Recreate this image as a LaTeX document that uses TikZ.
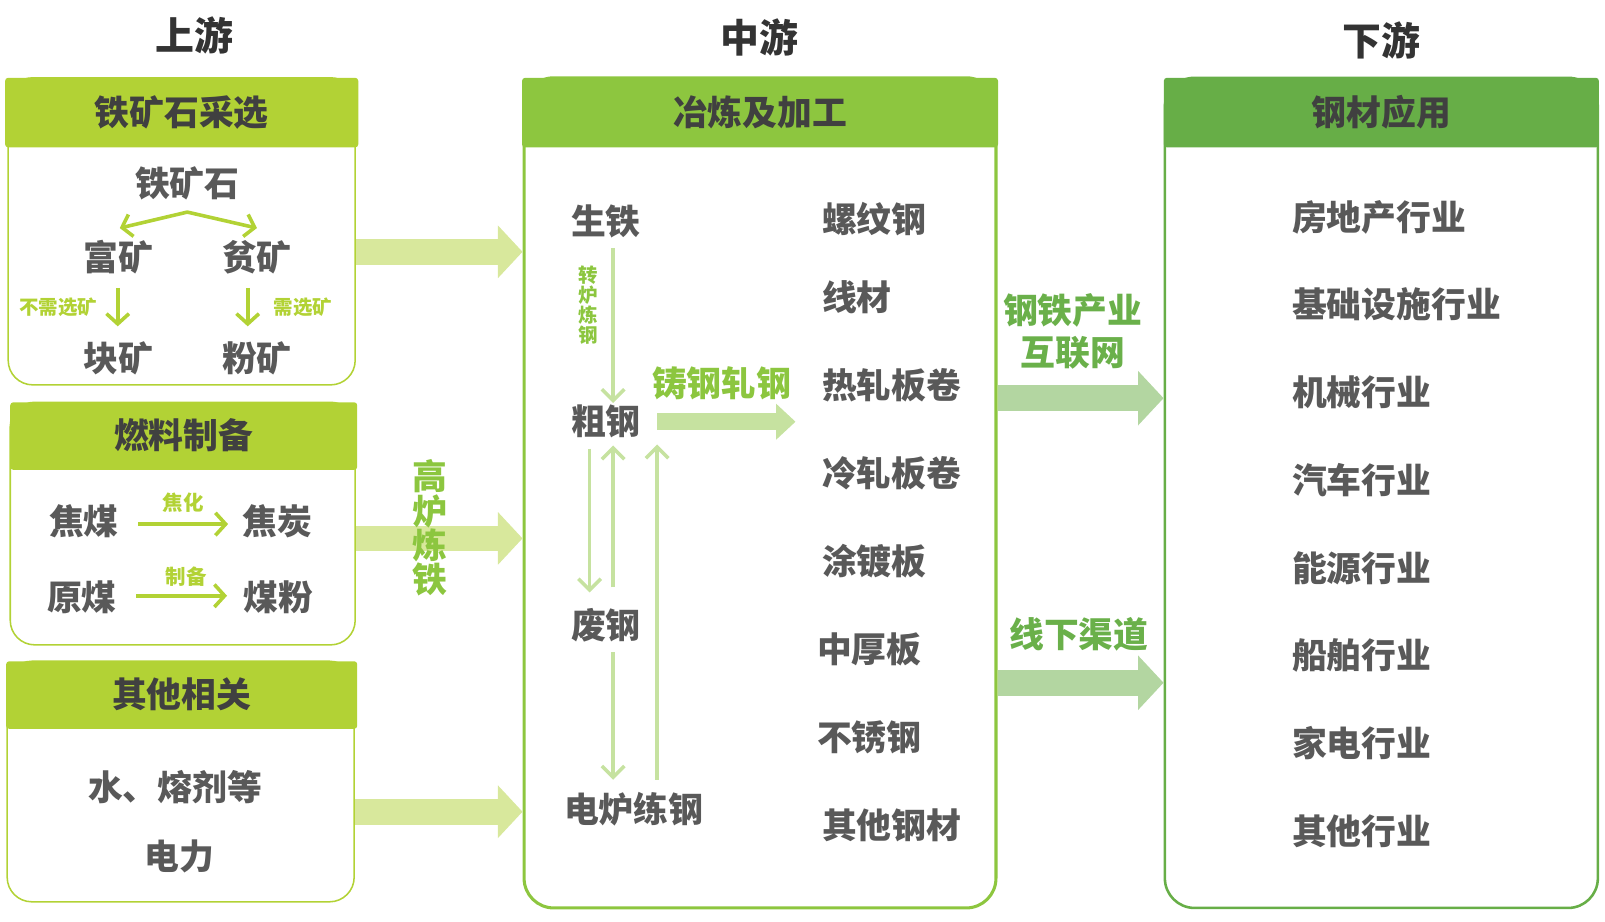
\documentclass[tikz,border=0pt]{standalone}
\usepackage{fontspec}
\setmainfont{Noto Sans CJK SC}
\usetikzlibrary{arrows.meta}
\definecolor{cA}{HTML}{B2D235}
\definecolor{cB}{HTML}{8DC63F}
\definecolor{cC}{HTML}{67AE47}
\definecolor{arrA}{HTML}{D8E89C}
\definecolor{arrB}{HTML}{C6E2A0}
\definecolor{arrC}{HTML}{B3D6A1}
\definecolor{tgray}{HTML}{595959}
\definecolor{tdark}{HTML}{404040}
\definecolor{thead}{HTML}{333333}
\definecolor{lgB}{HTML}{8CC63F}
\definecolor{lgC}{HTML}{6AB04A}
\begin{document}
\begin{tikzpicture}[x=1pt,y=-1pt,
  txt/.style={font=\fontsize{34}{34}\selectfont\bfseries, text=tgray, inner sep=0pt, text height=27pt, text depth=2pt},
  wtxt/.style={txt, anchor=west},
  colhead/.style={font=\fontsize{38}{38}\selectfont\bfseries, text=thead, inner sep=0pt},
  bar/.style={inner sep=0pt, rounded corners=3pt, font=\fontsize{34}{34}\selectfont\bfseries, text=tdark, text height=27pt, text depth=2pt},
  body/.style={inner sep=0pt, rounded corners=24pt},
  small/.style={font=\fontsize{19}{19}\selectfont\bfseries, inner sep=0pt, text=cA},
  glabel/.style={font=\fontsize{34}{34}\selectfont\bfseries, inner sep=0pt, align=center},
  barbA/.style={draw=cA, line width=3.5pt, {Straight Barb[length=9pt,width=22pt]}-{Straight Barb[length=9pt,width=22pt]}},
  downA/.style={draw=cA, line width=3.5pt, -{Straight Barb[length=10pt,width=22pt]}},
  thinB/.style={draw=arrB, line width=3.5pt, -{Straight Barb[length=11pt,width=22pt]}},
  bigA/.style={draw=arrA, line width=25pt, -{Triangle[length=24pt,width=50pt]}},
  bigC/.style={draw=arrC, line width=25pt, -{Triangle[length=25pt,width=52pt]}},
  midB/.style={draw=arrB, line width=17pt, -{Triangle[length=19pt,width=34pt]}}
]
\useasboundingbox (0,0) rectangle (1568,900);

% column headings
\node[colhead] (up) at (190,35) {上游};
\node[colhead] (mid) at (742,37) {中游};
\node[colhead] (down) at (1350,40) {下游};

% panel bodies
\node[body, draw=cA, line width=1.5pt, minimum width=339pt, minimum height=300pt] (b1) at (177.5,226) {};
\node[body, draw=cA, line width=1.5pt, minimum width=337pt, minimum height=237pt] (b2) at (178.5,511.5) {};
\node[body, draw=cA, line width=1.5pt, minimum width=339pt, minimum height=235pt] (b3) at (176.5,763.5) {};
\node[body, draw=cB, line width=3pt, rounded corners=29pt, minimum width=461pt, minimum height=811pt] (mb) at (742.5,481.5) {};
\node[body, draw=cC, line width=2.5pt, rounded corners=29pt, minimum width=423pt, minimum height=811pt] (rb) at (1349.5,481.5) {};

% header bars
\node[bar, fill=cA, minimum width=345pt, minimum height=68pt] (h1) at (177.5,110) {铁矿石采选};
\node[bar, fill=cA, minimum width=339pt, minimum height=66pt] (h2) at (179.5,426) {燃料制备};
\node[bar, fill=cA, minimum width=343pt, minimum height=66pt] (h3) at (177.5,679) {其他相关};
\node[bar, fill=cB, minimum width=465pt, minimum height=68pt] (hm) at (742.5,110) {冶炼及加工};
\node[bar, fill=cC, minimum width=425pt, minimum height=68pt] (hr) at (1349.5,110) {钢材应用};

% panel 1
\node[txt] (ore) at (183,179) {铁矿石};
\node[txt] (rich) at (116,252) {富矿};
\node[txt] (poor) at (251,252) {贫矿};
\node[txt] (lump) at (116,350) {块矿};
\node[txt] (fine) at (251,350) {粉矿};
\coordinate (apex) at ([yshift=-13.5pt]ore.south);
\draw[barbA] ([xshift=1pt,yshift=14.5pt]rich.north) -- (apex) -- ([yshift=14.5pt]poor.north);
\draw[downA] ([xshift=-1pt,yshift=-14.5pt]rich.south) -- ([xshift=-1pt,yshift=16.5pt]lump.north);
\draw[downA] ([xshift=-9pt,yshift=-14.5pt]poor.south) -- ([xshift=-9pt,yshift=16.5pt]fine.north);
\node[small] (nosel) at (57,300) {不需选矿};
\node[small] (sel) at (296,300) {需选矿};

% panel 2
\node[txt] (cc) at (82,510) {焦煤};
\node[txt] (coke) at (271,510) {焦炭};
\node[txt] (raw) at (80,584) {原煤};
\node[txt] (pc) at (272,584) {煤粉};
\draw[downA] ([xshift=19pt,yshift=-2pt]cc.east) -- ([xshift=-14pt,yshift=-2pt]coke.west);
\draw[downA] ([xshift=19pt,yshift=2pt]raw.east) -- ([xshift=-16pt,yshift=2pt]pc.west);
\node[small, font=\fontsize{20}{20}\selectfont\bfseries] (lcoke) at (179,491) {焦化};
\node[small, font=\fontsize{20}{20}\selectfont\bfseries] (lprep) at (182,563) {制备};

% panel 3
\node[txt] (water) at (171,770) {水、熔剂等};
\node[txt] (power) at (175,837) {电力};

% big arrows left
\coordinate (a1s) at ([yshift=-20pt]b1.east);
\coordinate (a1e) at (a1s -| mb.west);
\draw[bigA] (a1s) -- (a1e);
\coordinate (a2s) at ([yshift=-14.5pt]b2.east);
\coordinate (a2e) at (a2s -| mb.west);
\draw[bigA] (a2s) -- (a2e);
\coordinate (a3s) at ([yshift=-29.5pt]b3.east);
\coordinate (a3e) at (a3s -| mb.west);
\draw[bigA] (a3s) -- (a3e);
\node[glabel, text=lgB, font=\fontsize{34}{33.5}\selectfont\bfseries] (bf) at (420,516) {高\\炉\\炼\\铁};

% middle panel
\node[txt] (pig) at (592,217) {生铁};
\node[txt] (crude) at (592,412) {粗钢};
\node[txt] (scrap) at (592,611) {废钢};
\node[txt] (eaf) at (619,791) {电炉练钢};
\draw[thinB] ([xshift=7pt,yshift=-10.5pt]pig.south) -- ([xshift=7pt,yshift=3.5pt]crude.north);
\node[small, text=lgB, align=center, font=\fontsize{19}{19.3}\selectfont\bfseries] (bof) at (574.5,298) {转\\炉\\炼\\钢};
\draw[thinB] ([xshift=-16pt,yshift=-11.5pt]crude.south) -- ([xshift=-16pt,yshift=17.5pt]scrap.north);
\draw[thinB] ([xshift=7pt,yshift=22.5pt]scrap.north) -- ([xshift=7pt,yshift=-8.5pt]crude.south);
\draw[thinB] ([xshift=23pt,yshift=14.5pt]eaf.north) -- ([xshift=50pt,yshift=-7.5pt]crude.south);
\draw[thinB] ([xshift=7pt,yshift=-11.5pt]scrap.south) -- ([xshift=-20pt,yshift=14.5pt]eaf.north);
\draw[midB] ([xshift=16pt]crude.east) -- ([xshift=151pt]crude.east);
\node[glabel, text=lgB] (cast) at (705,374) {铸钢轧钢};

\node[wtxt] (m1) at (803,215) {螺纹钢};
\node[wtxt] (m2) at (803,291) {线材};
\node[wtxt] (m3) at (803,377) {热轧板卷};
\node[wtxt] (m4) at (803,463) {冷轧板卷};
\node[wtxt] (m5) at (803,549) {涂镀板};
\node[wtxt] (m6) at (798,635) {中厚板};
\node[wtxt] (m7) at (798,721) {不锈钢};
\node[wtxt] (m8) at (803,807) {其他钢材};

% right arrows
\coordinate (r1s) at ([yshift=92.5pt]mb.east);
\coordinate (r1e) at (r1s -| rb.west);
\draw[bigC] (r1s) -- (r1e);
\coordinate (r2s) at ([yshift=-185.5pt]mb.east);
\coordinate (r2e) at (r2s -| rb.west);
\draw[bigC] (r2s) -- (r2e);
\node[glabel, text=lgC, font=\fontsize{34}{41}\selectfont\bfseries] (web) at (1048,324) {钢铁产业\\互联网};
\node[glabel, text=lgC] (offline) at (1054,620) {线下渠道};

% right panel
\node[wtxt] (r1) at (1262,213) {房地产行业};
\node[wtxt] (r2) at (1262,298) {基础设施行业};
\node[wtxt] (r3) at (1262,384) {机械行业};
\node[wtxt] (r4) at (1262,470) {汽车行业};
\node[wtxt] (r5) at (1262,556) {能源行业};
\node[wtxt] (r6) at (1262,641) {船舶行业};
\node[wtxt] (r7) at (1262,727) {家电行业};
\node[wtxt] (r8) at (1262,813) {其他行业};
\end{tikzpicture}
\end{document}
